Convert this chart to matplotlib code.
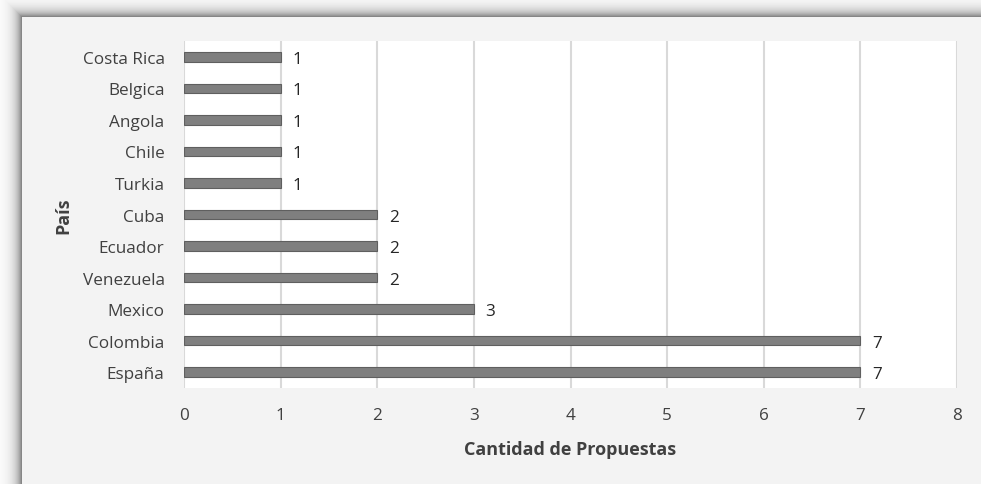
import numpy as np
import matplotlib.pyplot as plt

paises = ["España", "Colombia", "Mexico", "Venezuela", "Ecuador", "Cuba",
          "Turkia", "Chile", "Angola", "Belgica", "Costa Rica"]
propuestas = [7, 7, 3, 2, 2, 2, 1, 1, 1, 1, 1]
x_ticks = [0, 1, 2, 3, 4, 5, 6, 7, 8]

plt.rcParams['font.family'] = ['Open Sans', 'DejaVu Sans']

W, H = 981, 485
fig = plt.figure(figsize=(W / 100, H / 100), dpi=100)

# background with Excel-like drop shadow around the chart frame
fx, fy = 22, 18
xx, yy = np.meshgrid(np.arange(W), np.arange(H))
d = np.maximum(np.maximum(fx - xx, fy - yy), 0).astype(float)
shade = 1 - 0.55 * np.exp(-d / 6.5)
img = np.stack([shade] * 3, axis=-1)
inside = (xx >= fx) & (yy >= fy)
img[inside] = 0.953
bg = fig.add_axes([0, 0, 1, 1])
bg.imshow(img, aspect='auto', interpolation='bilinear')
bg.axis('off')

ax = fig.add_axes([184 / W, 96 / H, 773 / W, 347 / H])
ax.set_facecolor('white')
y = np.arange(len(paises))
ax.barh(y, propuestas, height=0.3, color='#7f7f7f', edgecolor='#5f5f5f',
        linewidth=0.8, zorder=3)
for yi, v in zip(y, propuestas):
    ax.text(v + 0.12, yi, str(v), va='center_baseline', ha='left',
            fontsize=12.3, color='#262626')

ax.set_xlim(0, 8)
ax.set_ylim(-0.5, len(paises) - 0.5)
ax.set_xticks(x_ticks)
ax.set_yticks(y)
ax.set_yticklabels(paises)
ax.grid(axis='x', color='#d9d9d9', linewidth=1.5, zorder=0)
ax.tick_params(length=0, labelsize=12.3, colors='#404040')
ax.tick_params(axis='x', pad=14)
for lab in ax.get_yticklabels():
    lab.set_verticalalignment('center_baseline')
ax.tick_params(axis='y', pad=14)
for s in ax.spines.values():
    s.set_visible(False)

ax.set_xlabel("Cantidad de Propuestas", fontsize=13, fontweight='bold',
              color='#404040', labelpad=12)
ax.set_ylabel("País", fontsize=13, fontweight='bold', color='#404040',
              labelpad=7)

plt.savefig("out.png", dpi=100)
